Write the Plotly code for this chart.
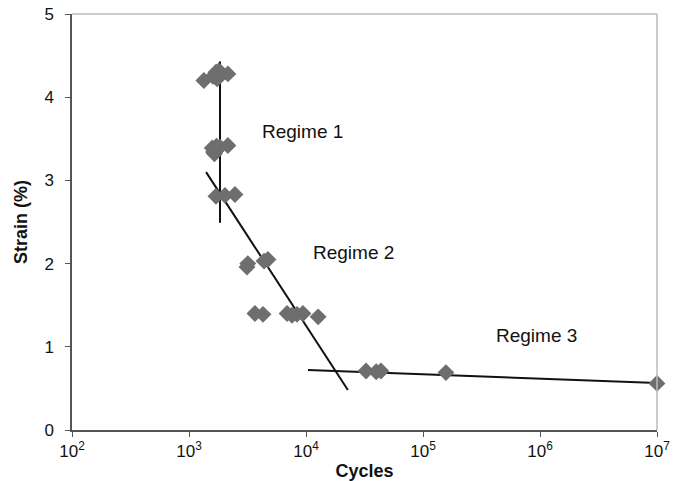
import math
import plotly.graph_objects as go

# Data points (cycles, strain %)
cycles = [1340, 1600, 1700, 1740, 1800, 2150,
          1580, 1620, 1720, 1840, 2150, 1650,
          1700, 2030, 2470,
          3130, 3180, 4380, 4730,
          3660, 4290, 6890, 7590, 8380, 9420, 12700,
          32600, 39800, 43700, 157000, 10000000]
strain = [4.20, 4.25, 4.30, 4.22, 4.32, 4.28,
          3.39, 3.34, 3.41, 3.40, 3.42, 3.32,
          2.81, 2.82, 2.83,
          1.96, 2.00, 2.03, 2.05,
          1.40, 1.39, 1.40, 1.38, 1.39, 1.40, 1.36,
          0.71, 0.70, 0.71, 0.69, 0.56]

# Regime trend lines
reg1_x = [1840, 1840]
reg1_y = [4.43, 2.49]
reg2_x = [1400, 22800]
reg2_y = [3.10, 0.48]
reg3_x = [10400, 10000000]
reg3_y = [0.72, 0.565]

labels = ["Regime 1", "Regime 2", "Regime 3"]
label_x = [9400, 25700, 925000]
label_y = [3.59, 2.13, 1.14]

x_tickvals = [1e2, 1e3, 1e4, 1e5, 1e6, 1e7]
x_ticktext = ["10<sup>2</sup>", "10<sup>3</sup>", "10<sup>4</sup>",
              "10<sup>5</sup>", "10<sup>6</sup>", "10<sup>7</sup>"]

FAMILY = "Liberation Sans, Arial, sans-serif"

fig = go.Figure()
line_style = dict(color="#111111", width=2)
for lx, ly in [(reg1_x, reg1_y), (reg2_x, reg2_y), (reg3_x, reg3_y)]:
    fig.add_trace(go.Scatter(x=lx, y=ly, mode="lines", line=line_style,
                             showlegend=False, hoverinfo="skip"))

fig.add_trace(go.Scatter(x=cycles, y=strain, mode="markers",
                         marker=dict(symbol="diamond", size=13, color="#6e6e6e",
                                     line=dict(width=0)),
                         showlegend=False, cliponaxis=False))

for t, x, y in zip(labels, label_x, label_y):
    fig.add_annotation(x=math.log10(x), y=y, text=t, showarrow=False,
                       xref="x", yref="y",
                       font=dict(family=FAMILY, size=19, color="#111111"))

fig.update_layout(
    width=675, height=481,
    margin=dict(l=72, r=18, t=14, b=51),
    paper_bgcolor="white", plot_bgcolor="white",
    font=dict(family=FAMILY, size=17, color="#111111"),
    xaxis=dict(type="log", range=[2, 7], tickvals=x_tickvals, ticktext=x_ticktext,
               showgrid=False, zeroline=False, showline=True, linecolor="#555555",
               linewidth=1.5, ticks="outside", ticklen=5, tickcolor="#555555",
               automargin=False, ticklabeloverflow="allow",
               title=dict(text="<b>Cycles</b>", font=dict(family=FAMILY, size=18), standoff=8),
               tickfont=dict(family=FAMILY, size=17)),
    yaxis=dict(range=[0, 5], dtick=1, showgrid=False, zeroline=False, showline=True,
               linecolor="#555555", linewidth=1.5, ticks="outside", ticklen=5,
               tickcolor="#555555", automargin=False, ticklabelstandoff=8,
               ticklabeloverflow="allow",
               title=dict(text="<b>Strain (%)</b>", font=dict(family=FAMILY, size=18), standoff=12),
               tickfont=dict(family=FAMILY, size=17)),
    shapes=[
        dict(type="line", xref="paper", yref="paper", x0=0, x1=1, y0=1, y1=1,
             line=dict(color="#bbbbbb", width=1.5)),
        dict(type="line", xref="paper", yref="paper", x0=1, x1=1, y0=0, y1=1,
             line=dict(color="#bbbbbb", width=1.5)),
    ],
)

fig.write_html(
    "out.html",
    config={"displayModeBar": False},
    post_script="document.body.style.margin='0';"
                "document.documentElement.style.overflow='hidden';",
)
